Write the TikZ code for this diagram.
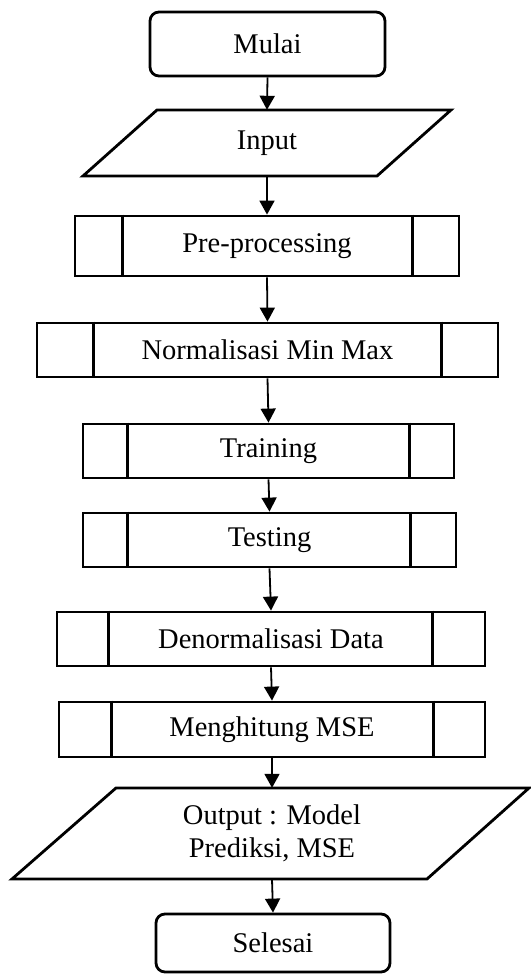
\documentclass[tikz,border=0pt]{standalone}
\usepackage{fontspec}
\setmainfont{Liberation Serif}
\usetikzlibrary{arrows.meta}
\begin{document}
\begin{tikzpicture}[x=1pt,y=-1pt,
  txt/.style={font=\fontsize{28.5}{33}\selectfont, align=center, inner sep=0pt},
  term/.style={txt, draw, line width=2.8pt, rounded corners=9pt},
  proc/.style={txt, draw, line width=2.8pt},
  shp/.style={draw, line width=2.8pt, line join=miter},
  arr/.style={line width=1.8pt, -{Triangle[length=14pt,width=15pt]}}]
\useasboundingbox (0,0) rectangle (530,976);
% Mulai
\node[term, minimum width=235pt, minimum height=64pt] (mulai) at (267.5,44) {Mulai};
% Input
\draw[shp] (157,110) -- (451,110) -- (377,176) -- (83,176) -- cycle;
\node[txt, minimum height=66pt] (input) at (267,143) {Input};
% Pre-processing
\node[proc, minimum width=384pt, minimum height=60pt] (pre) at (267,246) {Pre-processing};
\draw[shp] ([xshift=49pt]pre.north west) -- ([xshift=49pt]pre.south west);
\draw[shp] ([xshift=-48pt]pre.north east) -- ([xshift=-48pt]pre.south east);
% Normalisasi
\node[proc, minimum width=461pt, minimum height=54pt] (norm) at (267.5,350) {Normalisasi Min Max};
\draw[shp] ([xshift=58pt]norm.north west) -- ([xshift=58pt]norm.south west);
\draw[shp] ([xshift=-58pt]norm.north east) -- ([xshift=-58pt]norm.south east);
% Training
\node[proc, minimum width=371pt, minimum height=54pt] (train) at (268.5,451) {Training};
\draw[shp] ([xshift=46pt]train.north west) -- ([xshift=46pt]train.south west);
\draw[shp] ([xshift=-46pt]train.north east) -- ([xshift=-46pt]train.south east);
% Testing
\node[proc, minimum width=373pt, minimum height=54pt] (test) at (269.5,540) {Testing};
\draw[shp] ([xshift=46pt]test.north west) -- ([xshift=46pt]test.south west);
\draw[shp] ([xshift=-47pt]test.north east) -- ([xshift=-47pt]test.south east);
% Denormalisasi
\node[proc, minimum width=428pt, minimum height=54pt] (denorm) at (271,639) {Denormalisasi Data};
\draw[shp] ([xshift=53pt]denorm.north west) -- ([xshift=53pt]denorm.south west);
\draw[shp] ([xshift=-54pt]denorm.north east) -- ([xshift=-54pt]denorm.south east);
% Menghitung MSE
\node[proc, minimum width=426pt, minimum height=55pt] (mse) at (272,729.5) {Menghitung MSE};
\draw[shp] ([xshift=54pt]mse.north west) -- ([xshift=54pt]mse.south west);
\draw[shp] ([xshift=-53pt]mse.north east) -- ([xshift=-53pt]mse.south east);
% Output
\draw[shp] (116,788) -- (529,788) -- (427,879) -- (12,879) -- cycle;
\node[txt, minimum height=91pt] (output) at (272,833.5) {Output : Model\\Prediksi, MSE};
% Selesai
\node[term, minimum width=234pt, minimum height=58pt] (selesai) at (273,943) {Selesai};
% Arrows
\draw[arr] (mulai.south) -- (input.north);
\draw[arr] (input.south) -- (pre.north);
\draw[arr] (pre.south) -- (norm.north);
\draw[arr] (norm.south) -- (train.north);
\draw[arr] (train.south) -- (test.north);
\draw[arr] (test.south) -- (denorm.north);
\draw[arr] (denorm.south) -- (mse.north);
\draw[arr] (mse.south) -- (output.north);
\draw[arr] (output.south) -- (selesai.north);
\end{tikzpicture}
\end{document}
